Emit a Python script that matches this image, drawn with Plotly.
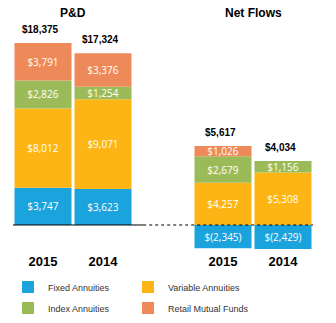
import plotly.graph_objects as go

# Bar slots: P&D 2015, P&D 2014, (gap), Net Flows 2015, Net Flows 2014
slots = [0, 1, 3, 4]
years = ["2015", "2014", "2015", "2014"]

fixed = [3747, 3623, -2345, -2429]
variable = [8012, 9071, 4257, 5308]
index_ann = [2826, 1254, 2679, 1156]
retail = [3791, 3376, 1026, 0]
totals = [18375, 17324, 5617, 4034]

group_titles = ["P&D", "Net Flows"]
group_centers = [0.5, 3.5]

# (name, values, colour, legend id, legend column, legend row)
series = [
    ("Fixed Annuities", fixed, "#1AA3DD", "legend", 0, 0),
    ("Variable Annuities", variable, "#FDB515", "legend2", 1, 0),
    ("Index Annuities", index_ann, "#9BBB59", "legend3", 0, 1),
    ("Retail Mutual Funds", retail, "#EE8A5A", "legend4", 1, 1),
]


def money(v):
    if v == 0:
        return ""
    if v < 0:
        return "$({:,})".format(-v)
    return "${:,}".format(v)


fig = go.Figure()
for name, vals, color, leg, _, _ in series:
    fig.add_trace(go.Bar(
        x=slots, y=vals, name=name, legend=leg,
        marker=dict(color=color, line=dict(width=0)),
        text=[money(v) for v in vals],
        textposition="inside", insidetextanchor="middle",
        constraintext="none",
        textfont=dict(color="white", size=10, family="Open Sans"),
        hoverinfo="skip",
    ))

# Totals sit above the positive part of each stack
pos_top = [sum(max(s[1][i], 0) for s in series) for i in range(len(slots))]
for xs, top, tot in zip(slots, pos_top, totals):
    fig.add_annotation(
        x=xs, y=top, xref="x", yref="y", yanchor="bottom",
        yshift=6, xshift=-3, showarrow=False,
        text="<b>${:,}</b>".format(tot),
        font=dict(color="black", size=10, family="Liberation Sans"),
    )

for title, cx in zip(group_titles, group_centers):
    fig.add_annotation(
        x=cx, y=1, xref="x", yref="paper", yshift=21,
        text="<b>" + title + "</b>", showarrow=False,
        font=dict(size=12, color="black", family="Liberation Sans"),
    )

# Baseline: solid under P&D, dotted across the rest
fig.add_shape(type="line", xref="x", yref="y", x0=-0.5, x1=1.67, y0=0, y1=0,
              line=dict(color="black", width=1))
fig.add_shape(type="line", xref="x", yref="y", x0=1.67, x1=4.5, y0=0, y1=0,
              line=dict(color="black", width=1, dash="dot"))

# Two-by-two legend grid, one legend box per entry
W, H = 336, 323
col_x = [8, 128]
row_y = [287, 308]
legend_layout = {}
for _, _, _, leg, col, row in series:
    legend_layout[leg] = dict(
        orientation="v", xref="container", yref="container",
        x=col_x[col] / W, y=1 - row_y[row] / H,
        xanchor="left", yanchor="middle", itemwidth=30,
        font=dict(size=9, color="#333333", family="Liberation Sans"),
        bgcolor="rgba(0,0,0,0)",
    )

fig.update_layout(
    width=W, height=H,
    margin=dict(l=13, r=23, t=25, b=71, autoexpand=False),
    barmode="relative", bargap=0.05,
    plot_bgcolor="white", paper_bgcolor="white",
    showlegend=True,
    xaxis=dict(
        range=[-0.5, 4.5], tickvals=slots, ticktext=["<b>%s</b>" % y for y in years],
        showgrid=False, zeroline=False, showline=False, ticks="",
        tickfont=dict(size=13, color="black", family="Liberation Sans"),
    ),
    yaxis=dict(
        range=[-2725, 20180], visible=False, showgrid=False, zeroline=False,
    ),
    **legend_layout,
)

fig.write_html("out.html")
